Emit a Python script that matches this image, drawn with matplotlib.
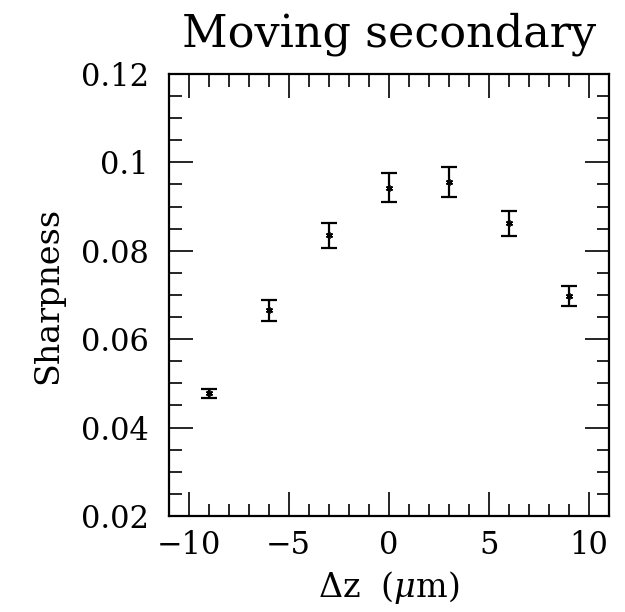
import numpy as np
import matplotlib.pyplot as plt
from matplotlib.ticker import MultipleLocator

# Focus offsets of the secondary mirror and the measured image sharpness
dz_um = [-9, -6, -3, 0, 3, 6, 9]
sharpness = [0.0478, 0.0665, 0.0835, 0.0943, 0.0955, 0.0862, 0.0698]
sharpness_err = [0.0010, 0.0024, 0.0028, 0.0033, 0.0034, 0.0028, 0.0023]

plt.rcParams.update({
    "font.family": "DejaVu Serif",
    "mathtext.fontset": "dejavuserif",
    "axes.linewidth": 1.6,
})

fig = plt.figure(figsize=(6.25, 6.12), dpi=100)
ax = fig.add_axes([0.2696, 0.1569, 0.7048, 0.7222])

ax.errorbar(
    dz_um, sharpness, yerr=sharpness_err,
    fmt="none", ecolor="black", elinewidth=1.6,
    capsize=5.5, capthick=1.6,
)
ax.plot(dz_um, sharpness, linestyle="none", marker=(6, 2, 0),
        markersize=5, color="black", markeredgewidth=1.2)

ax.set_xlim(-11, 11)
ax.set_ylim(0.02, 0.12)
ax.xaxis.set_minor_locator(MultipleLocator(1))
ax.yaxis.set_minor_locator(MultipleLocator(0.005))
ax.set_yticks([0.02, 0.04, 0.06, 0.08, 0.1, 0.12])
ax.set_yticklabels(["0.02", "0.04", "0.06", "0.08", "0.1", "0.12"])
ax.set_xticks([-10, -5, 0, 5, 10])
ax.set_xticklabels(["\u221210", "\u22125", "0", "5", "10"])

ax.tick_params(which="both", direction="in", top=True, right=True,
               labelsize=22, width=1.2)
ax.tick_params(which="major", length=17)
ax.tick_params(which="minor", length=9)
ax.tick_params(axis="y", which="major", pad=14)
ax.tick_params(axis="x", which="major", pad=10)

ax.set_xlabel(r"$\Delta$z  ($\mu$m)", fontsize=24, labelpad=6)
ax.set_ylabel("Sharpness", fontsize=24, labelpad=12)
ax.set_title("Moving secondary", fontsize=32, pad=20)

fig.savefig("out.png", dpi=100)
